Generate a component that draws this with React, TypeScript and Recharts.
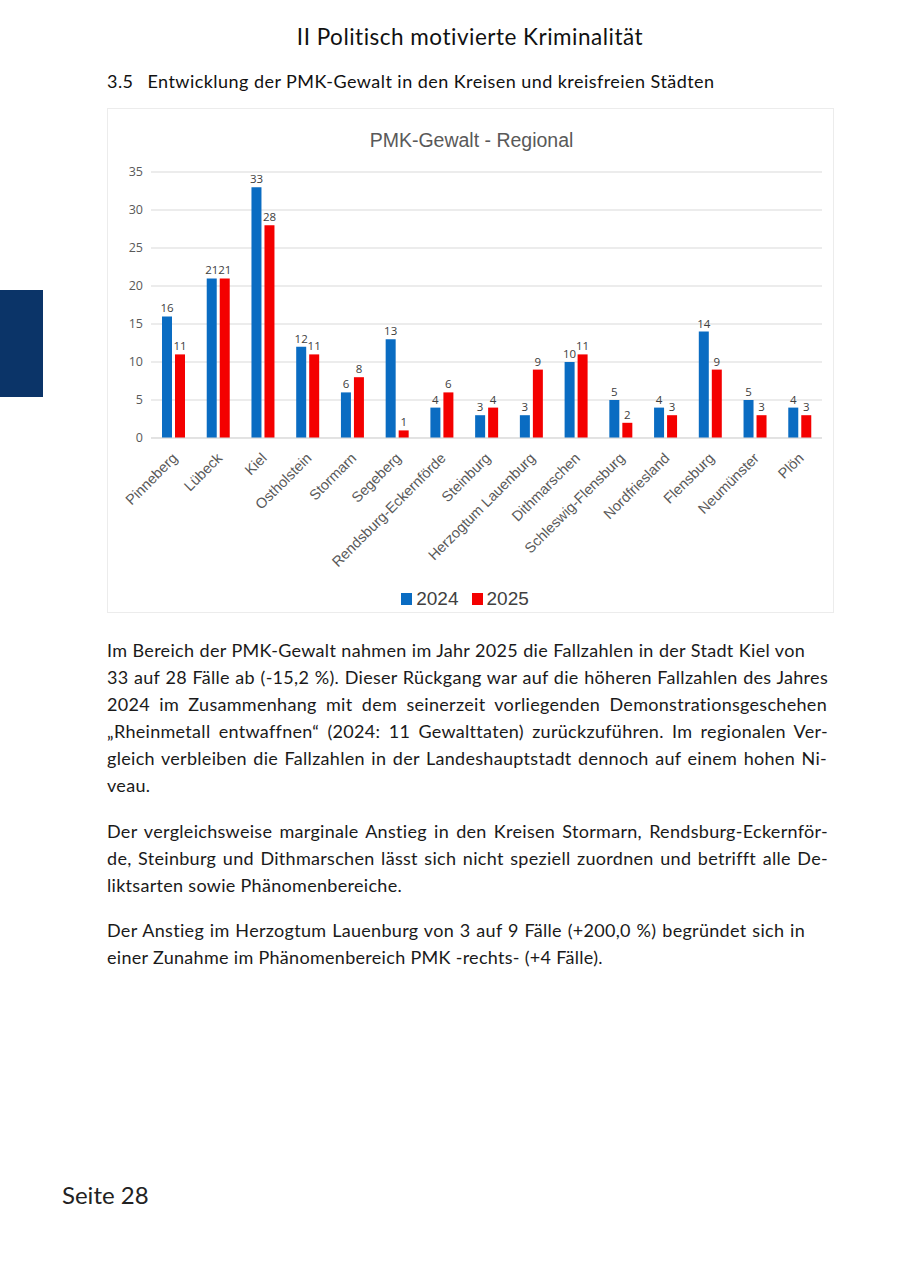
import React from "react";
import { BarChart, Bar, XAxis, YAxis, CartesianGrid, LabelList, Legend } from "recharts";

const categories = [
  "Pinneberg", "Lübeck", "Kiel", "Ostholstein", "Stormarn", "Segeberg",
  "Rendsburg-Eckernförde", "Steinburg", "Herzogtum Lauenburg", "Dithmarschen",
  "Schleswig-Flensburg", "Nordfriesland", "Flensburg", "Neumünster", "Plön",
];
const values2024 = [16, 21, 33, 12, 6, 13, 4, 3, 3, 10, 5, 4, 14, 5, 4];
const values2025 = [11, 21, 28, 11, 8, 1, 6, 4, 9, 11, 2, 3, 9, 3, 3];
const yTicks = [0, 5, 10, 15, 20, 25, 30, 35];

const data = categories.map((name, i) => ({ name, y2024: values2024[i], y2025: values2025[i] }));

const BLUE = "#0a6cc2";
const RED = "#f40000";

const para1 = [
  "Im Bereich der PMK-Gewalt nahmen im Jahr 2025 die Fallzahlen in der Stadt Kiel von",
  "33 auf 28 Fälle ab (-15,2 %). Dieser Rückgang war auf die höheren Fallzahlen des Jahres",
  "2024 im Zusammenhang mit dem seinerzeit vorliegenden Demonstrationsgeschehen",
  "„Rheinmetall entwaffnen“ (2024: 11 Gewalttaten) zurückzuführen. Im regionalen Ver-",
  "gleich verbleiben die Fallzahlen in der Landeshauptstadt dennoch auf einem hohen Ni-",
  "veau.",
];
const para2 = [
  "Der vergleichsweise marginale Anstieg in den Kreisen Stormarn, Rendsburg-Eckernför-",
  "de, Steinburg und Dithmarschen lässt sich nicht speziell zuordnen und betrifft alle De-",
  "liktsarten sowie Phänomenbereiche.",
];
const para3 = [
  "Der Anstieg im Herzogtum Lauenburg von 3 auf 9 Fälle (+200,0 %) begründet sich in",
  "einer Zunahme im Phänomenbereich PMK -rechts- (+4 Fälle).",
];
const widths1 = [698, 721, 720, 721, 720, 0];
const widths2 = [721, 721, 0];
const widths3 = [698, 0];

const FONT = "Lato, 'Open Sans', sans-serif";

const XTick = (props: any) => {
  const { x, y, payload } = props;
  return (
    <text
      x={x + 5}
      y={y + 13}
      transform={`rotate(-45, ${x + 5}, ${y + 13})`}
      textAnchor="end"
      fontSize={14.5}
      fill="#595959"
      fontFamily="'Liberation Sans', Arial, sans-serif"
    >
      {payload.value}
    </text>
  );
};

const LegendContent = () => (
  <div style={{ display: "flex", justifyContent: "center", alignItems: "center", fontFamily: "'Liberation Sans', Arial, sans-serif", fontSize: 19, color: "#404040", height: 30 }}>
    <span style={{ display: "inline-block", width: 11, height: 12, background: BLUE, marginRight: 4 }} />
    <span style={{ marginRight: 13 }}>2024</span>
    <span style={{ display: "inline-block", width: 11, height: 12, background: RED, marginRight: 4 }} />
    <span>2025</span>
  </div>
);

const Lines = ({ lines, widths, top }: { lines: string[]; widths: number[]; top: number }) => (
  <>
    {lines.map((l, i) => (
      <div
        key={i}
        style={{
          position: "absolute",
          left: 107,
          top: top + i * 27,
          width: widths[i] || undefined,
          whiteSpace: "nowrap",
          textAlign: widths[i] ? "justify" : "left",
          textAlignLast: widths[i] ? "justify" : "left",
          fontFamily: FONT,
          fontSize: 18,
          letterSpacing: 0.3,
          lineHeight: "22px",
          color: "#1a1a1a",
        } as React.CSSProperties}
      >
        {l}
      </div>
    ))}
  </>
);

export default function App() {
  return (
    <div style={{ position: "absolute", left: 0, top: 0, width: 900, height: 1272, background: "#fff", overflow: "hidden" }}>
      <div style={{ position: "absolute", left: 0, top: 23, width: 940, textAlign: "center", fontFamily: FONT, fontSize: 22.5, letterSpacing: 0.5, color: "#111", lineHeight: "28px" }}>
        II Politisch motivierte Kriminalität
      </div>
      <div style={{ position: "absolute", left: 107, top: 70, fontFamily: FONT, fontSize: 18, letterSpacing: 0.45, color: "#111", lineHeight: "22px", whiteSpace: "nowrap" }}>
        3.5<span style={{ display: "inline-block", width: 14 }} />Entwicklung der PMK-Gewalt in den Kreisen und kreisfreien Städten
      </div>
      <div style={{ position: "absolute", left: 0, top: 290, width: 43, height: 107, background: "#0b3468" }} />

      <div style={{ position: "absolute", left: 107, top: 108, width: 727, height: 505, border: "1px solid #ececec", boxSizing: "border-box" }}>
        <div style={{ position: "absolute", left: 0, top: 20, width: 727, textAlign: "center", fontFamily: "'Liberation Sans', Arial, sans-serif", fontSize: 19.5, color: "#595959" }}>
          PMK-Gewalt - Regional
        </div>
        <BarChart
          width={727}
          height={505}
          data={data}
          margin={{ top: 63, right: 13, left: 0, bottom: 0 }}
          barSize={10}
          barGap={3}
        >
          <CartesianGrid vertical={false} stroke="#d9d9d9" />
          <XAxis
            dataKey="name"
            interval={0}
            tick={<XTick />}
            tickLine={false}
            axisLine={{ stroke: "#d9d9d9" }}
            height={146}
          />
          <YAxis
            domain={[0, 35]}
            ticks={yTicks}
            width={43}
            tickLine={false}
            axisLine={false}
            tickSize={0}
            tickMargin={8}
            tick={{ fontSize: 12.5, fill: "#595959", fontFamily: "'Open Sans', sans-serif" }}
          />
          <Legend verticalAlign="bottom" height={30} content={<LegendContent />} />
          <Bar dataKey="y2024" fill={BLUE} isAnimationActive={false}>
            <LabelList dataKey="y2024" position="top" offset={4} fontSize={11.5} fill="#404040" fontFamily="'Open Sans', sans-serif" />
          </Bar>
          <Bar dataKey="y2025" fill={RED} isAnimationActive={false}>
            <LabelList dataKey="y2025" position="top" offset={4} fontSize={11.5} fill="#404040" fontFamily="'Open Sans', sans-serif" />
          </Bar>
        </BarChart>
      </div>

      <Lines lines={para1} widths={widths1} top={639} />
      <Lines lines={para2} widths={widths2} top={820} />
      <Lines lines={para3} widths={widths3} top={919} />

      <div style={{ position: "absolute", left: 62, top: 1180, fontFamily: FONT, fontSize: 24, color: "#222", lineHeight: "30px" }}>
        Seite 28
      </div>
    </div>
  );
}
